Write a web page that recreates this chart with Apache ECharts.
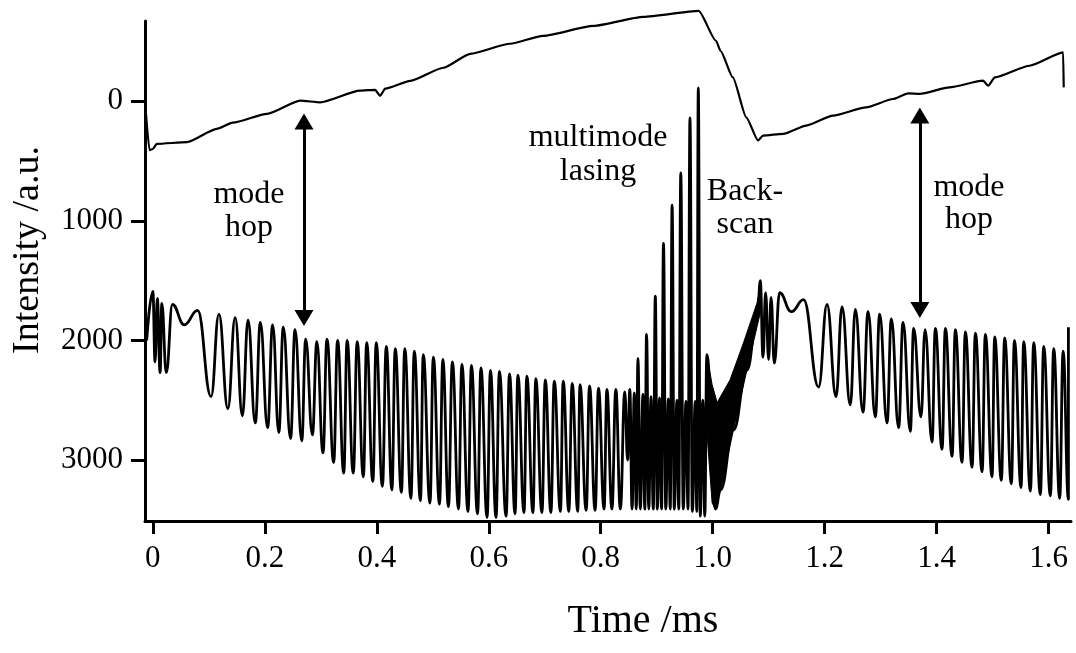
<!DOCTYPE html>
<html>
<head>
<meta charset="utf-8">
<script src="https://cdn.jsdelivr.net/npm/echarts@6/dist/echarts.min.js"></script>
<style>
html,body{margin:0;padding:0;background:#fff;}
#chart{width:1076px;height:653px;}
</style>
</head>
<body>
<div id="chart"></div>
<script>
// ---- data (time in ms, intensity in a.u.) ----
const xTickValues = [0, 0.2, 0.4, 0.6, 0.8, 1.0, 1.2, 1.4, 1.6];
const xTickLabels = ['0', '0.2', '0.4', '0.6', '0.8', '1.0', '1.2', '1.4', '1.6'];
const yTickValues = [0, 1000, 2000, 3000];
const yTickLabels = ['0', '1000', '2000', '3000'];

// upper trace (scan ramp)
const rampTrace = [
  [-0.014, -4], [-0.006, 410], [0.000, 400], [0.007, 357], [0.061, 343], [0.114, 232],
  [0.143, 180], [0.204, 107], [0.263, -4], [0.299, 10], [0.370, -88], [0.397, -95],
  [0.406, -45], [0.415, -105], [0.460, -170], [0.519, -279], [0.567, -396], [0.638, -480],
  [0.697, -546], [0.787, -629], [0.876, -704], [0.975, -754], [1.006, -504], [1.014, -421],
  [1.036, -198], [1.060, 135], [1.081, 329], [1.090, 288], [1.126, 273], [1.167, 204],
  [1.215, 121], [1.274, 52], [1.322, -18], [1.349, -65], [1.370, -60], [1.423, -115],
  [1.483, -171], [1.492, -129], [1.504, -198], [1.566, -296], [1.626, -407], [1.627, -115]
];

// lower trace (fringes / transmission)
const fringeTrace = [
  [-0.011, 2000], [0.000, 1590], [0.004, 2180], [0.008, 1650], [0.013, 2270], [0.016, 1690],
  [0.024, 2270], [0.035, 1700], [0.056, 1870], [0.080, 1750], [0.104, 2470], [0.118, 1780],
  [0.134, 2570], [0.147, 1810], [0.160, 2630], [0.170, 1830], [0.183, 2690], [0.192, 1850],
  [0.205, 2730], [0.214, 1870], [0.225, 2770], [0.233, 1890], [0.246, 2820], [0.254, 1910],
  [0.266, 2840], [0.273, 1990], [0.285, 2790], [0.293, 2010], [0.304, 2940], [0.311, 1990],
  [0.323, 3020], [0.330, 2000], [0.341, 3110], [0.347, 2000], [0.358, 3110], [0.365, 2010],
  [0.376, 3140], [0.382, 2020], [0.393, 3180], [0.399, 2020], [0.410, 3220], [0.417, 2050],
  [0.427, 3250], [0.433, 2070], [0.444, 3270], [0.450, 2070], [0.461, 3320], [0.467, 2090],
  [0.478, 3340], [0.483, 2120], [0.495, 3360], [0.501, 2140], [0.512, 3370], [0.518, 2160],
  [0.528, 3390], [0.535, 2180], [0.546, 3410], [0.552, 2200], [0.563, 3430], [0.569, 2210],
  [0.580, 3450], [0.586, 2230], [0.597, 3480], [0.603, 2250], [0.613, 3480], [0.619, 2260],
  [0.631, 3470], [0.637, 2280], [0.647, 3450], [0.652, 2290], [0.663, 3440], [0.668, 2300],
  [0.679, 3440], [0.684, 2320], [0.695, 3440], [0.701, 2330], [0.711, 3440], [0.717, 2340],
  [0.728, 3430], [0.733, 2340], [0.743, 3430], [0.749, 2360], [0.759, 3430], [0.763, 2370],
  [0.774, 3420], [0.780, 2380], [0.790, 3420], [0.796, 2400], [0.806, 3410], [0.811, 2410],
  [0.820, 3410], [0.827, 2410], [0.835, 3410], [0.843, 2430], [0.848, 3000], [0.852, 2410],
  [0.856, 3410], [0.860, 2440], [0.8635, 3410],
  // multimode lasing spikes
  [0.8665, 2150], [0.8707, 3410], [0.8755, 2450], [0.8787, 3410],
  [0.8819, 1950], [0.8858, 3410], [0.8898, 2470], [0.8939, 3410],
  [0.8975, 1630], [0.9011, 3410], [0.9051, 2480], [0.9087, 3410],
  [0.9121, 1190], [0.9162, 3410], [0.9207, 2490], [0.9242, 3410],
  [0.9275, 870], [0.9314, 3410], [0.9362, 2500], [0.9394, 3410],
  [0.9430, 600], [0.9474, 3410], [0.9523, 2510], [0.9559, 3410],
  [0.9594, 140], [0.9636, 3430], [0.9689, 2510], [0.9716, 3430],
  [0.9743, -110], [0.9778, 3470], [0.9823, 2500], [0.9859, 3470],
  [0.9895, 2120], [1.005, 3410],
  // back-scan (along lower envelope)
  [1.014, 3250], [1.037, 2750], [1.061, 2250], [1.080, 1800],
  // after back-scan
  [1.085, 1500], [1.0899, 2140], [1.0945, 1600], [1.0999, 2160], [1.1042, 1640], [1.1101, 2190],
  [1.1195, 1600], [1.1404, 1760], [1.1624, 1660], [1.1892, 2390], [1.2042, 1700], [1.2203, 2470],
  [1.2310, 1720], [1.2458, 2540], [1.2548, 1740], [1.2685, 2600], [1.2775, 1760], [1.2905, 2640],
  [1.2982, 1780], [1.3114, 2690], [1.3191, 1820], [1.3321, 2730], [1.3400, 1850], [1.3530, 2760],
  [1.3589, 1900], [1.3721, 2640], [1.3793, 1910], [1.3918, 2850], [1.3977, 1900], [1.4097, 2910],
  [1.4156, 1900], [1.4276, 2970], [1.4334, 1910], [1.4454, 3020], [1.4513, 1930], [1.4633, 3060],
  [1.4692, 1940], [1.4812, 3100], [1.4870, 1950], [1.4990, 3140], [1.5037, 1970], [1.5156, 3170],
  [1.5215, 1980], [1.5335, 3200], [1.5389, 2000], [1.5508, 3230], [1.5555, 2010], [1.5675, 3260],
  [1.5734, 2020], [1.5853, 3290], [1.5912, 2050], [1.6032, 3300], [1.6091, 2070], [1.6198, 3320],
  [1.6259, 2090], [1.6354, 3330], [1.6354, 1890]
];

// back-scan envelope (unresolved fast oscillation, drawn filled)
const backscanUpper = [[0.9895, 2120], [0.999, 2370], [1.008, 2520], [1.031, 2330], [1.055, 2020], [1.079, 1690], [1.085, 1550]];
const backscanLower = [[0.987, 2600], [0.999, 3360], [1.005, 3410], [1.014, 3250], [1.037, 2750], [1.061, 2250], [1.085, 1770]];

// mode-hop arrows: [time, from, to]
const modeHopArrows = [[0.270, 171, 1812], [1.370, 121, 1746]];

// ---- chart ----
const FONT = '"Liberation Serif", "Times New Roman", serif';
const chart = echarts.init(document.getElementById('chart'), null, {renderer: 'canvas'});

const envelopePoly = backscanUpper.concat(backscanLower.slice().reverse());

function pick(values, labels) {
  return function (v) {
    const i = values.findIndex(t => Math.abs(t - v) < 1e-9);
    return i >= 0 ? labels[i] : '';
  };
}

const annot = (text, x, y) => ({
  type: 'text', x: x, y: y,
  style: {text: text, font: '32px ' + FONT, fill: '#000', align: 'center', verticalAlign: 'middle'}
});

chart.setOption({
  backgroundColor: '#fff',
  animation: false,
  grid: {left: 145, right: 5, top: 21, bottom: 132, containLabel: false},
  xAxis: {
    type: 'value',
    min: -0.014,
    max: 1.64,
    name: 'Time /ms',
    nameLocation: 'middle',
    nameGap: 80,
    nameTextStyle: {fontFamily: FONT, fontSize: 40, color: '#000', padding: [0, 0, 0, 70]},
    axisLine: {show: true, onZero: false, lineStyle: {color: '#000', width: 3}},
    axisTick: {show: true, length: 13, lineStyle: {color: '#000', width: 3}, customValues: xTickValues},
    axisLabel: {
      show: true, margin: 22, fontFamily: FONT, fontSize: 31, color: '#000',
      customValues: xTickValues, formatter: pick(xTickValues, xTickLabels)
    },
    splitLine: {show: false}
  },
  yAxis: {
    type: 'value',
    inverse: true,
    min: -670,
    max: 3510,
    name: 'Intensity /a.u.',
    nameLocation: 'middle',
    nameGap: 98,
    nameTextStyle: {fontFamily: FONT, fontSize: 38, color: '#000', padding: [0, 0, 0, 42]},
    axisLine: {show: true, onZero: false, lineStyle: {color: '#000', width: 3}},
    axisTick: {show: true, length: 14, lineStyle: {color: '#000', width: 3}, customValues: yTickValues},
    axisLabel: {
      show: true, margin: 22, fontFamily: FONT, fontSize: 31, color: '#000',
      customValues: yTickValues, formatter: pick(yTickValues, yTickLabels)
    },
    splitLine: {show: false}
  },
  series: [
    {
      name: 'ramp', type: 'line', data: rampTrace, showSymbol: false, clip: false,
      lineStyle: {color: '#000', width: 2.2}, smooth: 0.2, smoothMonotone: 'x'
    },
    {
      name: 'fringes', type: 'line', data: fringeTrace, showSymbol: false, clip: false,
      lineStyle: {color: '#000', width: 2.8}, smooth: 0.45, smoothMonotone: 'x',
      markLine: {
        silent: true,
        symbol: ['triangle', 'triangle'],
        symbolSize: [19, 16],
        lineStyle: {color: '#000', width: 3, type: 'solid'},
        label: {show: false},
        data: modeHopArrows.map(a => [{coord: [a[0], a[1]]}, {coord: [a[0], a[2]]}])
      }
    },
    {
      name: 'backscan', type: 'custom', data: [0], clip: false,
      renderItem: function (params, api) {
        const pts = envelopePoly.map(p => api.coord(p));
        return {type: 'polygon', shape: {points: pts}, style: {fill: '#000', stroke: '#000', lineWidth: 1}};
      }
    }
  ],
  graphic: [
    annot('mode', 249, 195), annot('hop', 249, 228),
    annot('multimode', 598, 138), annot('lasing', 598, 172),
    annot('Back-', 745, 192), annot('scan', 745, 225),
    annot('mode', 969, 188), annot('hop', 969, 220)
  ]
});
</script>
</body>
</html>
